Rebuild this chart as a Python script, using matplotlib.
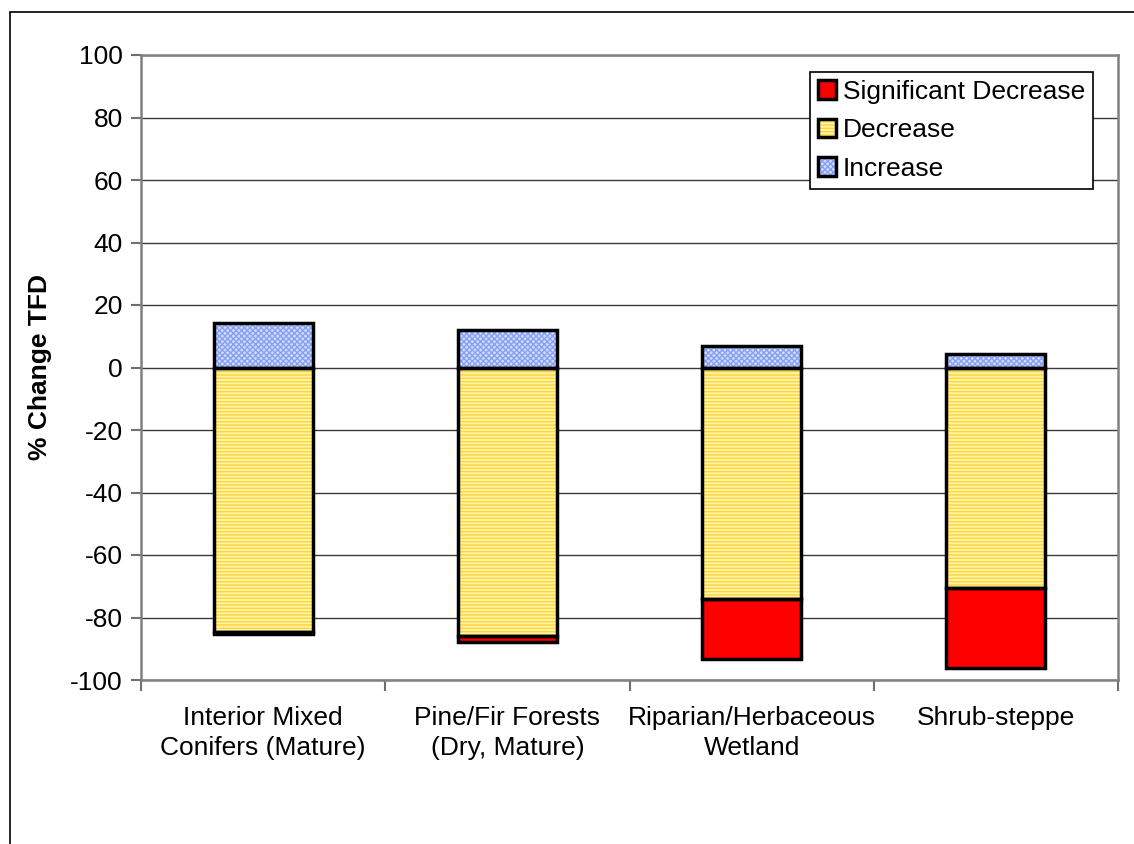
import matplotlib.pyplot as plt
from matplotlib.patches import Rectangle
from matplotlib.legend_handler import HandlerTuple
import numpy as np

plt.rcParams['font.family'] = ['Liberation Sans', 'DejaVu Sans']
plt.rcParams['hatch.linewidth'] = 1.0
plt.rcParams['axes.unicode_minus'] = False

categories = ['Interior Mixed\nConifers (Mature)', 'Pine/Fir Forests\n(Dry, Mature)',
              'Riparian/Herbaceous\nWetland', 'Shrub-steppe']
increase = [14.4, 12.0, 6.9, 4.2]
decrease = [-84.5, -86.0, -74.1, -70.6]
sig_decrease = [-0.8, -1.8, -19.3, -25.4]

W, H = 1134, 844
FS = 19
fig = plt.figure(figsize=(W / 100, H / 100), dpi=100)

# outer chart border (runs off the right and bottom edge)
fig.patches.append(Rectangle((10 / W, -0.1), 1.2, 1 - 12 / H + 0.1,
                             transform=fig.transFigure, fill=False,
                             edgecolor='black', linewidth=1.2, zorder=0))

ax = fig.add_axes([141 / W, 1 - 680 / H, (1118 - 141) / W, (680 - 55) / H])

x = np.arange(len(categories))
bw = 0.405
blk = dict(fill=False, edgecolor='black', linewidth=2.5, zorder=3)

dec = np.array(decrease)
sig = np.array(sig_decrease)

# filled/hatched layers, then black outlines on top
p_inc = ax.bar(x, increase, bw, color='#d3dcfb', hatch='xxxxxx', edgecolor='#86a0f6',
               linewidth=0, zorder=2)
p_dec = ax.bar(x, decrease, bw, color='#fff4a8', hatch='-----', edgecolor='#ffd43a',
               linewidth=0, zorder=2)
p_sig = ax.bar(x, sig, bw, bottom=dec, color='#ff0000', linewidth=0, zorder=2)
o_inc = ax.bar(x, increase, bw, **blk)
o_dec = ax.bar(x, decrease, bw, **blk)
o_sig = ax.bar(x, sig, bw, bottom=dec, **blk)

ax.set_xlim(-0.5, len(categories) - 0.5)
ax.set_ylim(-100, 100)
ax.set_yticks(np.arange(-100, 101, 20))
ax.yaxis.grid(True, color='#3a3a3a', linewidth=1.0, zorder=1)
ax.set_axisbelow(True)

ax.set_xticks(x)
ax.set_xticklabels(categories, fontsize=FS, linespacing=1.3)
ax.set_xticks(np.arange(-0.5, len(categories), 1.0), minor=True)
ax.tick_params(axis='x', which='major', length=0, pad=19)
ax.tick_params(axis='x', which='minor', length=8, width=1.5, color='#707070', direction='out')
ax.tick_params(axis='y', length=7, width=1.5, color='#707070', direction='out',
               labelsize=FS, pad=6)

for s in ax.spines.values():
    s.set_color('#808080')
    s.set_linewidth(1.8)

ax.set_ylabel('% Change TFD', fontsize=FS, fontweight='bold', labelpad=13)

handles = [(p_sig[0], o_sig[0]), (p_dec[0], o_dec[0]), (p_inc[0], o_inc[0])]
leg = ax.legend(handles, ['Significant Decrease', 'Decrease', 'Increase'],
                handler_map={tuple: HandlerTuple(ndivide=1)},
                loc='upper right', bbox_to_anchor=(0.9745, 0.973), fontsize=FS,
                frameon=True, fancybox=False, edgecolor='black', framealpha=1,
                handlelength=0.7, handleheight=0.7, handletextpad=0.25,
                labelspacing=0.55, borderpad=0.3, borderaxespad=0.0)
leg.get_frame().set_linewidth(1.2)

fig.savefig('out.png', dpi=100)
